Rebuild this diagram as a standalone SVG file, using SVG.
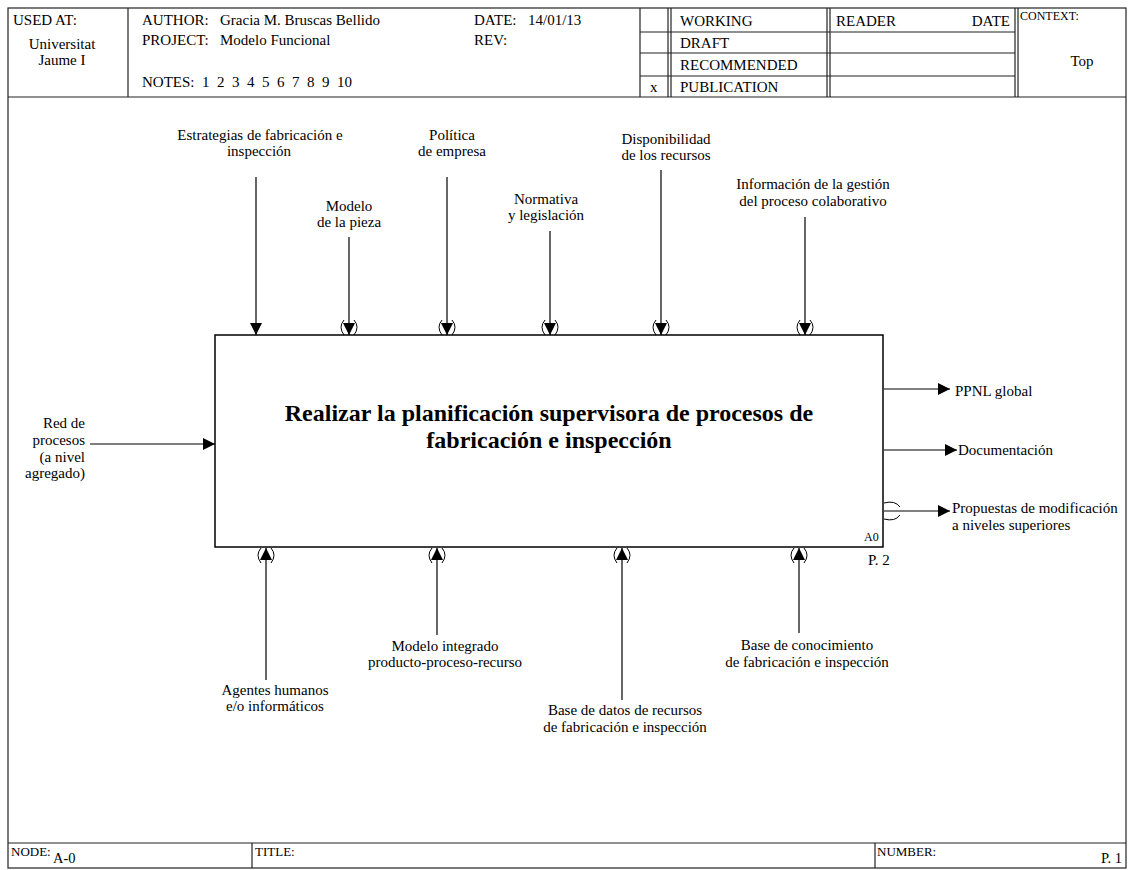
<svg xmlns="http://www.w3.org/2000/svg" width="1134" height="870" viewBox="0 0 1134 870">
<style>
text{font-family:"Liberation Serif","Times New Roman",serif;font-size:15px;fill:#000}
.c{text-anchor:middle}
.r{text-anchor:end}
.s{font-size:12px}
.f{font-size:13px}
.g{font-size:14.5px}
.t{font-size:24px;font-weight:bold;text-anchor:middle}
.fr{fill:none;stroke:#222;stroke-width:1.2}
.ln{fill:none;stroke:#000;stroke-width:1.2}
.tn{fill:none;stroke:#000;stroke-width:1}
</style>
<defs>
<marker id="ah" viewBox="0 0 12 12" refX="12" refY="6" markerWidth="12" markerHeight="12" markerUnits="userSpaceOnUse" orient="auto">
<path d="M0,0 L12,6 L0,12 Z" fill="#000"/>
</marker>
</defs>
<rect width="1134" height="870" fill="#fff"/>
<g id="frame">
<rect class="fr" x="8" y="8" width="1118" height="860"/>
<line class="fr" x1="8" y1="97" x2="1126" y2="97"/>
<line class="fr" x1="128" y1="8" x2="128" y2="97"/>
<line class="fr" x1="640" y1="8" x2="640" y2="97"/>
<line class="fr" x1="668" y1="8" x2="668" y2="97"/>
<line class="fr" x1="671" y1="8" x2="671" y2="97"/>
<line class="fr" x1="827" y1="8" x2="827" y2="97"/>
<line class="fr" x1="830" y1="8" x2="830" y2="97"/>
<line class="fr" x1="1015" y1="8" x2="1015" y2="97"/>
<line class="fr" x1="1018" y1="8" x2="1018" y2="97"/>
<line class="fr" x1="640" y1="32" x2="1015" y2="32"/>
<line class="fr" x1="640" y1="53" x2="1015" y2="53"/>
<line class="fr" x1="640" y1="76" x2="1015" y2="76"/>
<line class="fr" x1="8" y1="843" x2="1126" y2="843"/>
<line class="fr" x1="252" y1="843" x2="252" y2="868"/>
<line class="fr" x1="875" y1="843" x2="875" y2="868"/>
<text x="13" y="25">USED AT:</text>
<text class="c" x="62" y="49">Universitat</text>
<text class="c" x="62" y="65">Jaume I</text>
<text x="142" y="25">AUTHOR:</text>
<text x="220" y="25">Gracia M. Bruscas Bellido</text>
<text x="142" y="45">PROJECT:</text>
<text x="220" y="45">Modelo Funcional</text>
<text x="142" y="87" xml:space="preserve">NOTES:  1  2  3  4  5  6  7  8  9  10</text>
<text x="474" y="25">DATE:</text>
<text x="528" y="25">14/01/13</text>
<text x="474" y="45">REV:</text>
<text x="680" y="26">WORKING</text>
<text x="680" y="48">DRAFT</text>
<text x="680" y="70">RECOMMENDED</text>
<text x="680" y="92">PUBLICATION</text>
<text x="650" y="92">x</text>
<text x="836" y="26">READER</text>
<text class="r" x="1010" y="26">DATE</text>
<text class="s" x="1020" y="20">CONTEXT:</text>
<text class="c" x="1082" y="66">Top</text>
<text class="f" x="11" y="856">NODE:</text>
<text class="g" x="53" y="863">A-0</text>
<text class="f" x="255" y="856">TITLE:</text>
<text class="f" x="877" y="856">NUMBER:</text>
<text class="g" x="1101" y="863">P. 1</text>
</g>
<g id="A0">
<rect x="215" y="335" width="668" height="212" fill="#fff" stroke="#000" stroke-width="1.5"/>
<text class="t" x="549" y="421">Realizar la planificación supervisora de procesos de</text>
<text class="t" x="549" y="448">fabricación e inspección</text>
<text class="s" x="864" y="541">A0</text>
<text x="868" y="565">P. 2</text>
</g>
<g id="connectors">
<line class="ln" x1="256" y1="177" x2="256" y2="335" marker-end="url(#ah)"/>
<line class="ln" x1="349" y1="237" x2="349" y2="335" marker-end="url(#ah)"/>
<line class="ln" x1="447" y1="177" x2="447" y2="335" marker-end="url(#ah)"/>
<line class="ln" x1="550" y1="231" x2="550" y2="335" marker-end="url(#ah)"/>
<line class="ln" x1="661" y1="170" x2="661" y2="335" marker-end="url(#ah)"/>
<line class="ln" x1="805" y1="217" x2="805" y2="335" marker-end="url(#ah)"/>
<path class="tn" d="M344,320 Q338,327 344,335 M354,320 Q360,327 354,335"/>
<path class="tn" d="M442,320 Q436,327 442,335 M452,320 Q458,327 452,335"/>
<path class="tn" d="M545,320 Q539,327 545,335 M555,320 Q561,327 555,335"/>
<path class="tn" d="M656,320 Q650,327 656,335 M666,320 Q672,327 666,335"/>
<path class="tn" d="M800,320 Q794,327 800,335 M810,320 Q816,327 810,335"/>
<line class="ln" x1="266" y1="680" x2="266" y2="548" marker-end="url(#ah)"/>
<line class="ln" x1="437" y1="635" x2="437" y2="548" marker-end="url(#ah)"/>
<line class="ln" x1="622" y1="700" x2="622" y2="548" marker-end="url(#ah)"/>
<line class="ln" x1="799" y1="633" x2="799" y2="548" marker-end="url(#ah)"/>
<path class="tn" d="M261,548 Q255,555 261,563 M271,548 Q277,555 271,563"/>
<path class="tn" d="M432,548 Q426,555 432,563 M442,548 Q448,555 442,563"/>
<path class="tn" d="M617,548 Q611,555 617,563 M627,548 Q633,555 627,563"/>
<path class="tn" d="M794,548 Q788,555 794,563 M804,548 Q810,555 804,563"/>
<line class="ln" x1="90" y1="444" x2="215" y2="444" marker-end="url(#ah)"/>
<line class="ln" x1="884" y1="389" x2="950" y2="389" marker-end="url(#ah)"/>
<line class="ln" x1="884" y1="450" x2="957" y2="450" marker-end="url(#ah)"/>
<line class="ln" x1="884" y1="511" x2="950" y2="511" marker-end="url(#ah)"/>
<path class="tn" d="M884,503 Q895,500 900,507 M900,515 Q895,522 884,519"/>
</g>
<g id="labels">
<text class="c" x="260" y="140">Estrategias de fabricación e</text>
<text class="c" x="259" y="156">inspección</text>
<text class="c" x="349" y="211">Modelo</text>
<text class="c" x="349" y="227">de la pieza</text>
<text class="c" x="452" y="140">Política</text>
<text class="c" x="452" y="156">de empresa</text>
<text class="c" x="546" y="204">Normativa</text>
<text class="c" x="546" y="220">y legislación</text>
<text class="c" x="666" y="144">Disponibilidad</text>
<text class="c" x="666" y="160">de los recursos</text>
<text class="c" x="813" y="189">Información de la gestión</text>
<text class="c" x="813" y="206">del proceso colaborativo</text>
<text class="r" x="85" y="428">Red de</text>
<text class="r" x="85" y="445">procesos</text>
<text class="r" x="85" y="462">(a nivel</text>
<text class="r" x="85" y="478">agregado)</text>
<text x="955" y="396">PPNL global</text>
<text x="958" y="455">Documentación</text>
<text x="952" y="513">Propuestas de modificación</text>
<text x="952" y="530">a niveles superiores</text>
<text class="c" x="275" y="695">Agentes humanos</text>
<text class="c" x="275" y="711">e/o informáticos</text>
<text class="c" x="445" y="651">Modelo integrado</text>
<text class="c" x="445" y="667">producto-proceso-recurso</text>
<text class="c" x="625" y="715">Base de datos de recursos</text>
<text class="c" x="625" y="732">de fabricación e inspección</text>
<text class="c" x="807" y="650">Base de conocimiento</text>
<text class="c" x="807" y="667">de fabricación e inspección</text>
</g>
</svg>
